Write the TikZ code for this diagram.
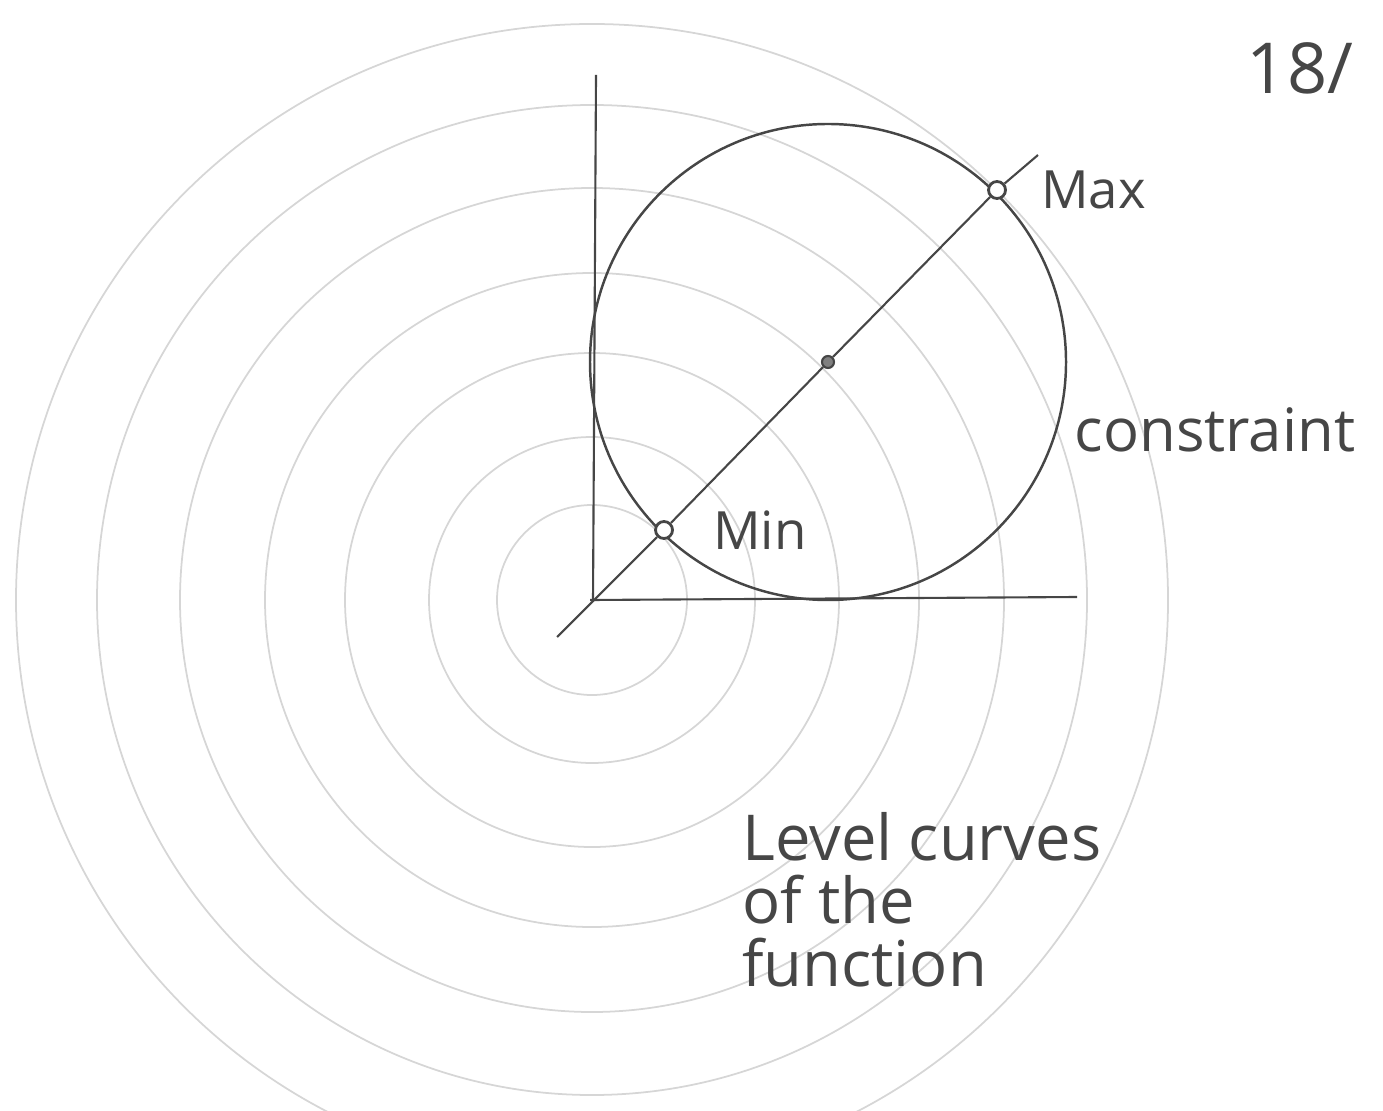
\documentclass[tikz,border=0pt]{standalone}
\usepackage{fontspec}
\setmainfont{Open Sans}
\usepackage{tikz}
\usetikzlibrary{positioning,calc}
\definecolor{levelgray}{RGB}{214,214,214}
\definecolor{inkgray}  {RGB}{70,70,70}
\tikzset{
  level/.style ={draw=levelgray, line width=0.5pt},
  ink/.style   ={draw=inkgray, line width=0.7pt},
  axisline/.style={draw=inkgray, line width=0.6pt},
  ptopen/.style={circle, draw=inkgray, line width=0.8pt, fill=white,
                 minimum size=0.17cm, inner sep=0pt},
  ptfull/.style={circle, draw=inkgray, fill=gray, line width=0.6pt,
                 minimum size=0.12cm, inner sep=0pt},
  lbl/.style   ={text=inkgray, inner sep=1pt, font=\fontsize{15}{18}\selectfont},
  biglbl/.style={text=inkgray, inner sep=1pt, align=left,
                 font=\fontsize{18}{18}\selectfont},
}
\begin{document}
\begin{tikzpicture}[x=0.01cm,y=-0.01cm]
  \useasboundingbox (0,0) rectangle (1383,1110);
  % level curves of the function
  \coordinate (o) at (592,600);
  \foreach \r in {95,163,247,327,412,495,576}
    \draw[level] (o) circle[radius=\r];
  % axes
  \coordinate (ytop) at (596,75);
  \coordinate (xend) at (1077,597);
  \draw[axisline] (593,600) -- (ytop);
  \draw[axisline] (590,600) -- (xend);
  % constraint
  \node[ptfull] (ctr) at (828,362) {};
  \draw[ink] (ctr) circle[radius=238];
  \node[ptopen] (min) at (664,530) {};
  \node[ptopen] (max) at (997,190) {};
  \coordinate (dlow) at (557,637);
  \coordinate (dhigh) at (1038,155);
  \draw[axisline] (dlow) -- (min) -- (ctr) -- (max) -- (dhigh);
  % labels
  \node[lbl, right=0.35cm of min] (minlbl) {Min};
  \node[lbl, right=0.3cm of max] (maxlbl) {Max};
  \node[lbl, font=\fontsize{17}{20}\selectfont] (conlbl) at (1215,430) {constraint};
  \node[biglbl, anchor=north west] (levlbl) at (738,808)
       {Level curves\\of the\\function};
  \node[lbl, font=\fontsize{20}{24}\selectfont] (page) at (1300,68) {18/};
\end{tikzpicture}
\end{document}
